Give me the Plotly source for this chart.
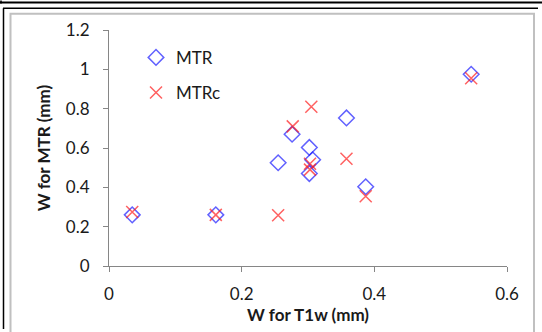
import plotly.graph_objects as go

# Data
w_t1w = [0.035, 0.161, 0.255, 0.276, 0.302, 0.307, 0.302, 0.358, 0.387, 0.546]
w_mtr = [0.26, 0.26, 0.525, 0.67, 0.603, 0.54, 0.47, 0.753, 0.403, 0.975]
w_t1w_c = [0.035, 0.161, 0.255, 0.277, 0.305, 0.303, 0.303, 0.358, 0.387, 0.546]
w_mtrc = [0.275, 0.26, 0.258, 0.71, 0.81, 0.52, 0.49, 0.545, 0.355, 0.955]
x_ticks = [0, 0.2, 0.4, 0.6]
x_tick_text = ["0", "0.2", "0.4", "0.6"]
y_ticks = [0, 0.2, 0.4, 0.6, 0.8, 1.0, 1.2]
y_tick_text = ["0", "0.2", "0.4", "0.6", "0.8", "1", "1.2"]

W, H = 542, 332
L, R, T, B = 109, 507, 30, 270
FONT = "Lato, Open Sans, sans-serif"


def px(x):
    return (x - L) / (R - L)


def py(y):
    return (B - y) / (B - T)


fig = go.Figure()
fig.add_trace(go.Scatter(
    x=w_t1w, y=w_mtr, mode="markers", name="MTR", legendgroup="a",
    marker=dict(symbol="diamond-open", size=12, color="rgba(30,30,255,0.7)",
                line=dict(width=1.5, color="rgba(30,30,255,0.7)")),
))
fig.add_trace(go.Scatter(
    x=w_t1w_c, y=w_mtrc, mode="markers", name="MTRc", legendgroup="b",
    marker=dict(symbol="x-thin-open", size=12, color="rgba(255,30,30,0.7)",
                line=dict(width=1.5, color="rgba(255,30,30,0.7)")),
))

axis_common = dict(
    showgrid=False, zeroline=False, showline=True, linecolor="#868686",
    linewidth=1, ticks="outside", ticklen=5, tickcolor="#868686",
    tickfont=dict(family=FONT, size=17, color="#1a1a1a"),
)
fig.update_xaxes(range=[0, 0.6], tickvals=x_ticks, ticktext=x_tick_text,
                 ticklabelstandoff=8,
                 title=dict(text="<b>W for T1w (mm)</b>", standoff=4,
                            font=dict(family=FONT, size=17, color="#1a1a1a")),
                 **axis_common)
fig.update_yaxes(range=[0, 1.2], tickvals=y_ticks, ticktext=y_tick_text,
                 ticklabelstandoff=10,
                 title=dict(text="<b>W for MTR (mm)</b>", standoff=10,
                            font=dict(family=FONT, size=17, color="#1a1a1a")),
                 **axis_common)

shapes = [
    # outer black frame lines
    dict(type="line", xref="paper", yref="paper", x0=px(0), x1=px(W), y0=py(2), y1=py(2),
         line=dict(color="black", width=2)),
    dict(type="line", xref="paper", yref="paper", x0=px(3), x1=px(538), y0=py(8), y1=py(8),
         line=dict(color="black", width=1.5)),
    dict(type="line", xref="paper", yref="paper", x0=px(1), x1=px(1), y0=py(0), y1=py(3),
         line=dict(color="black", width=1.5)),
    dict(type="line", xref="paper", yref="paper", x0=px(3.5), x1=px(3.5), y0=py(8), y1=py(H + 2),
         line=dict(color="black", width=1.5)),
    # chart area grey border
    dict(type="rect", xref="paper", yref="paper", x0=px(10.5), x1=px(534), y0=py(13.5), y1=py(H + 10),
         line=dict(color="#c0c0c0", width=2)),
]

fig.update_layout(
    width=W, height=H,
    margin=dict(l=L, r=W - R, t=T, b=H - B),
    paper_bgcolor="white", plot_bgcolor="white",
    shapes=shapes,
    showlegend=True,
    legend=dict(x=px(136), y=py(40), xanchor="left", yanchor="top",
                bgcolor="rgba(0,0,0,0)", tracegroupgap=10,
                font=dict(family=FONT, size=17, color="#1a1a1a")),
)

fig.write_html("out.html", config={"displayModeBar": False},
               post_script="document.body.style.margin='0';document.body.style.overflow='hidden';")
